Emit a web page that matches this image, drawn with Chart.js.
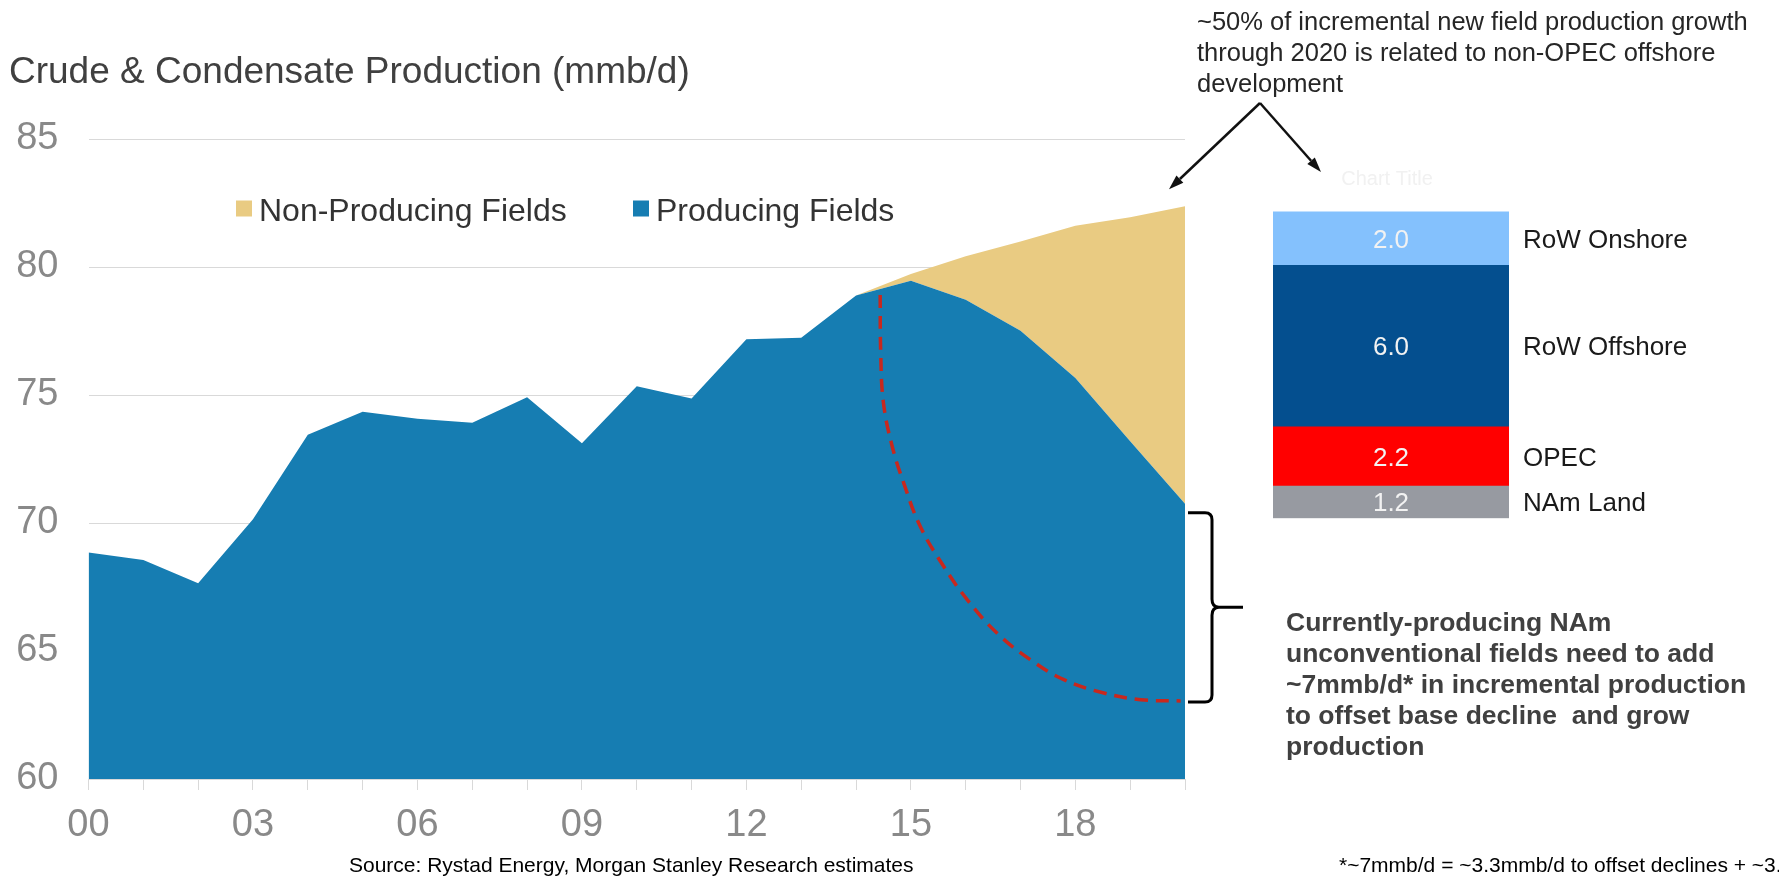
<!DOCTYPE html>
<html>
<head>
<meta charset="utf-8">
<script src="https://cdn.jsdelivr.net/npm/chart.js@4.4.1/dist/chart.umd.min.js"></script>
<style>
  html, body { margin: 0; padding: 0; background: #ffffff; }
  #wrap { position: relative; width: 1779px; height: 877px; overflow: hidden; background: #ffffff; }
  #main { position: absolute; left: 0; top: 0; }
  #inset { position: absolute; left: 1240px; top: 150px; }
</style>
</head>
<body>
<div id="wrap">
  <canvas id="main" width="1779" height="877"></canvas>
  <canvas id="inset" width="539" height="400"></canvas>
</div>
<script>
// ---- Data -------------------------------------------------------------
const years = [2000, 2001, 2002, 2003, 2004, 2005, 2006, 2007, 2008, 2009, 2010,
               2011, 2012, 2013, 2014, 2015, 2016, 2017, 2018, 2019, 2020];
const xTickLabels = ['00', '', '', '03', '', '', '06', '', '', '09', '', '',
                     '12', '', '', '15', '', '', '18', '', ''];
// mmb/d from fields already producing
const producingFields = [68.85, 68.55, 67.65, 70.15, 73.45, 74.35, 74.07, 73.92, 74.91, 73.12, 75.34,
                         74.86, 77.18, 77.24, 78.89, 79.46, 78.72, 77.51, 75.66, 73.19, 70.75];
// mmb/d added by fields not yet producing
const nonProducingFields = [0, 0, 0, 0, 0, 0, 0, 0, 0, 0, 0,
                            0, 0, 0, 0, 0.27, 1.70, 3.49, 5.95, 8.75, 11.62];
// base decline path of currently-producing NAm unconventional fields
const declineYears  = [2014.44, 2014.45, 2014.50, 2014.66, 2014.87, 2015.17, 2015.60,
                       2016.03, 2016.57, 2017.18, 2017.79, 2018.52, 2019.19, 2019.92];
const declineValues = [78.91, 76.64, 74.69, 72.99, 71.56, 69.87, 68.30,
                       67.00, 65.70, 64.66, 63.88, 63.36, 63.10, 63.05];

// incremental new field production through 2020, bottom to top
const newFieldSegments = ['NAm Land', 'OPEC', 'RoW Offshore', 'RoW Onshore'];
const newFieldValues   = [1.2, 2.2, 6.0, 2.0];

// ---- Text -------------------------------------------------------------
const chartTitle = 'Crude & Condensate Production (mmb/d)';
const offshoreNote = ['~50% of incremental new field production growth',
                      'through 2020 is related to non-OPEC offshore',
                      'development'];
const namNote = ['Currently-producing NAm',
                 'unconventional fields need to add',
                 '~7mmb/d* in incremental production',
                 'to offset base decline  and grow',
                 'production'];
const sourceNote = 'Source: Rystad Energy, Morgan Stanley Research estimates';
const footNote = '*~7mmb/d = ~3.3mmb/d to offset declines + ~3.7mmb/d';

// ---- Styles -----------------------------------------------------------
const FONT = '"Liberation Sans", Arial, Helvetica, sans-serif';
const BLUE = '#167db2';
const GOLD = '#e9cb82';
const RED_DASH = '#c8281e';
const segmentColors = ['#979aa1', '#ff0000', '#044f8f', '#84c1fd'];

const producingPoints = years.map((y, i) => ({ x: y, y: producingFields[i] }));
const totalPoints = years.map((y, i) => ({ x: y, y: producingFields[i] + nonProducingFields[i] }));
const declinePoints = declineYears.map((y, i) => ({ x: y, y: declineValues[i] }));

function drawArrow(ctx, x1, y1, x2, y2) {
  const ang = Math.atan2(y2 - y1, x2 - x1);
  const len = 15, half = 5;
  const bx = x2 - len * Math.cos(ang), by = y2 - len * Math.sin(ang);
  ctx.beginPath();
  ctx.moveTo(x1, y1);
  ctx.lineTo(bx, by);
  ctx.stroke();
  ctx.beginPath();
  ctx.moveTo(x2, y2);
  ctx.lineTo(bx + half * Math.sin(ang), by - half * Math.cos(ang));
  ctx.lineTo(bx - half * Math.sin(ang), by + half * Math.cos(ang));
  ctx.closePath();
  ctx.fill();
}

const overlay = {
  id: 'overlay',
  afterDraw(chart) {
    const ctx = chart.ctx;
    const area = chart.chartArea;
    const xs = chart.scales.x, ys = chart.scales.y;
    ctx.save();
    ctx.textBaseline = 'alphabetic';
    ctx.textAlign = 'left';

    // title
    ctx.fillStyle = '#404040';
    ctx.font = '37px ' + FONT;
    ctx.fillText(chartTitle, 9, 83);

    // legend
    const items = [{ ds: 1, x: 236 }, { ds: 0, x: 633 }];
    ctx.font = '32px ' + FONT;
    items.forEach(it => {
      const d = chart.data.datasets[it.ds];
      ctx.fillStyle = d.backgroundColor;
      ctx.fillRect(it.x, 200.5, 16, 16);
      ctx.fillStyle = '#333333';
      ctx.fillText(d.label, it.x + 23, 220.5);
    });

    // arrows from the offshore note
    const last = years.length - 1;
    const tipX = xs.getPixelForValue(years[last]) - 16;
    const tipY = ys.getPixelForValue(producingFields[last] + nonProducingFields[last]) - 17;
    ctx.strokeStyle = '#111111';
    ctx.fillStyle = '#111111';
    ctx.lineWidth = 2.5;
    drawArrow(ctx, 1260, 103, tipX, tipY);
    drawArrow(ctx, 1260, 103, 1321, 172);

    // offshore note
    ctx.fillStyle = '#262626';
    ctx.font = '25.5px ' + FONT;
    offshoreNote.forEach((t, i) => ctx.fillText(t, 1197, 29.5 + 31 * i));

    // brace spanning the base decline gap in 2020
    const top = ys.getPixelForValue(producingFields[last]) + 9;
    const bot = ys.getPixelForValue(declineValues[declineValues.length - 1]) + 1;
    const mid = (top + bot) / 2;
    const x0 = area.right + 3, xv = area.right + 27, xt = area.right + 58;
    ctx.strokeStyle = '#000000';
    ctx.lineWidth = 3;
    ctx.beginPath();
    ctx.moveTo(x0, top);
    ctx.lineTo(xv - 7, top);
    ctx.quadraticCurveTo(xv, top, xv, top + 7);
    ctx.lineTo(xv, mid - 8);
    ctx.quadraticCurveTo(xv, mid, xv + 7, mid);
    ctx.lineTo(xt, mid);
    ctx.moveTo(xv + 7, mid);
    ctx.quadraticCurveTo(xv, mid, xv, mid + 8);
    ctx.lineTo(xv, bot - 7);
    ctx.quadraticCurveTo(xv, bot, xv - 7, bot);
    ctx.lineTo(x0, bot);
    ctx.stroke();

    // NAm note
    ctx.fillStyle = '#404040';
    ctx.font = 'bold 26.5px ' + FONT;
    namNote.forEach((t, i) => ctx.fillText(t, 1286, 630.5 + 31.2 * i));

    // source and footnote
    ctx.fillStyle = '#000000';
    ctx.font = '21px ' + FONT;
    ctx.fillText(sourceNote, 349, 872);
    ctx.fillText(footNote, 1339, 872);
    ctx.restore();
  }
};

new Chart(document.getElementById('main'), {
  type: 'line',
  data: {
    datasets: [
      {
        label: 'Producing Fields',
        data: producingPoints,
        backgroundColor: BLUE,
        borderColor: 'rgba(0,0,0,0)',
        borderWidth: 0,
        pointRadius: 0,
        tension: 0,
        fill: 'start'
      },
      {
        label: 'Non-Producing Fields',
        data: totalPoints,
        backgroundColor: GOLD,
        borderColor: 'rgba(0,0,0,0)',
        borderWidth: 0,
        pointRadius: 0,
        tension: 0,
        fill: 0
      },
      {
        label: 'Base decline',
        data: declinePoints,
        borderColor: RED_DASH,
        borderWidth: 3.5,
        borderDash: [13, 8],
        pointRadius: 0,
        tension: 0.4,
        fill: false,
        order: -1
      }
    ]
  },
  options: {
    responsive: false,
    animation: false,
    events: [],
    layout: { padding: { top: 139, left: 0, right: 594, bottom: 0 } },
    plugins: { legend: { display: false }, tooltip: { enabled: false }, title: { display: false } },
    scales: {
      x: {
        type: 'linear',
        min: 2000,
        max: 2020,
        afterFit(scale) { scale.height = 98; },
        grid: { drawOnChartArea: false, drawTicks: true, tickLength: 11, color: '#d9d9d9', lineWidth: 1 },
        border: { display: true, color: '#d9d9d9', width: 1 },
        ticks: {
          stepSize: 1,
          autoSkip: false,
          maxTicksLimit: 40,
          maxRotation: 0,
          minRotation: 0,
          padding: 13,
          color: '#898989',
          font: { family: FONT, size: 38 },
          callback: (v) => xTickLabels[Math.round(v) - years[0]] ?? ''
        }
      },
      y: {
        min: 60,
        max: 85,
        afterFit(scale) { scale.width = 88.5; },
        grid: { color: '#d9d9d9', drawTicks: false, lineWidth: 1 },
        border: { display: false },
        ticks: {
          stepSize: 5,
          padding: 30,
          color: '#898989',
          font: { family: FONT, size: 38 }
        }
      }
    }
  },
  plugins: [overlay]
});

// ---- inset: stacked bar of incremental new field production ----------
const insetLabels = {
  id: 'insetLabels',
  afterDraw(chart) {
    const ctx = chart.ctx;
    const area = chart.chartArea;
    ctx.save();
    ctx.textBaseline = 'alphabetic';
    ctx.font = '20px ' + FONT;
    ctx.fillStyle = '#f1f1f1';
    ctx.textAlign = 'center';
    ctx.fillText('Chart Title', (area.left + area.right) / 2 - 4, 35);
    chart.data.datasets.forEach((d, i) => {
      const bar = chart.getDatasetMeta(i).data[0];
      const cy = (bar.y + bar.base) / 2;
      ctx.font = '26px ' + FONT;
      ctx.textAlign = 'center';
      ctx.fillStyle = '#f2f2f2';
      ctx.fillText(d.data[0].toFixed(1), bar.x, cy + 9.3);
      ctx.textAlign = 'left';
      ctx.fillStyle = '#1a1a1a';
      ctx.fillText(d.label, area.right + 14, cy + 9.3);
    });
    ctx.restore();
  }
};

const insetTotal = newFieldValues.reduce((a, b) => a + b, 0);
new Chart(document.getElementById('inset'), {
  type: 'bar',
  data: {
    labels: ['2020'],
    datasets: newFieldSegments.map((name, i) => ({
      label: name,
      data: [newFieldValues[i]],
      backgroundColor: segmentColors[i],
      borderWidth: 0,
      barPercentage: 1,
      categoryPercentage: 1
    }))
  },
  options: {
    responsive: false,
    animation: false,
    events: [],
    layout: { padding: { left: 33, right: 270, top: 61.4, bottom: 31.7 } },
    plugins: { legend: { display: false }, tooltip: { enabled: false } },
    scales: {
      x: { stacked: true, display: false },
      y: { stacked: true, display: false, min: 0, max: insetTotal }
    }
  },
  plugins: [insetLabels]
});
</script>
</body>
</html>
